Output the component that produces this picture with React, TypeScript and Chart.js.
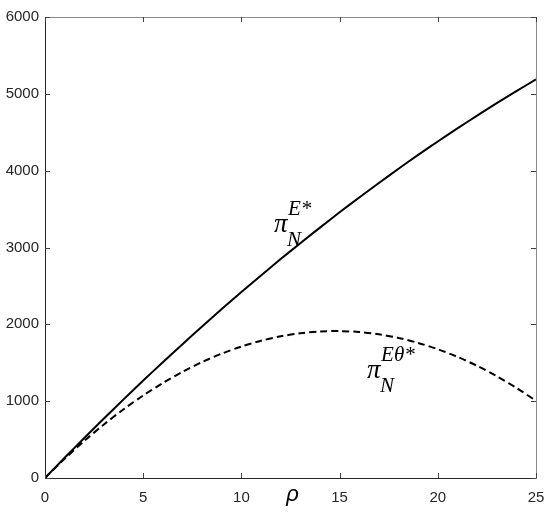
import React, { useEffect, useRef } from "react";
import { Chart, registerables } from "chart.js";

Chart.register(...registerables);

const rho: number[] = [0,1,2,3,4,5,6,7,8,9,10,11,12,13,14,15,16,17,18,19,20,21,22,23,24,25];
const piE: number[] = [0,263,521,774,1023,1268,1507,1742,1973,2199,2420,2637,2849,3056,3259,3458,3651,3840,4025,4205,4380,4550,4717,4878,5035,5188];
const piETheta: number[] = [0,250,482,697,894,1074,1236,1381,1509,1619,1711,1786,1844,1884,1907,1912,1900,1870,1823,1758,1676,1577,1460,1325,1173,1004];

const xTicks: number[] = [0, 5, 10, 15, 20, 25];
const yTicks: number[] = [0, 1000, 2000, 3000, 4000, 5000, 6000];

const label1 = { x: 11.66, y: 3202, sup: "E*", sub: "N" };
const label2 = { x: 16.4, y: 1302, sup: "Eθ*", sub: "N" };

const framePlugin = {
  id: "frame",
  afterDraw(chart: any) {
    const ctx = chart.ctx;
    const { left, right, top, bottom } = chart.chartArea;
    const xs = chart.scales.x;
    const ys = chart.scales.y;
    ctx.save();
    ctx.lineWidth = 1;
    ctx.strokeStyle = "#8a8a8a";
    ctx.beginPath();
    ctx.moveTo(left + 0.5, top + 0.5);
    ctx.lineTo(right + 0.5, top + 0.5);
    ctx.lineTo(right + 0.5, bottom + 0.5);
    ctx.stroke();
    ctx.strokeStyle = "#262626";
    ctx.beginPath();
    ctx.moveTo(left + 0.5, top + 0.5);
    ctx.lineTo(left + 0.5, bottom + 0.5);
    ctx.lineTo(right + 0.5, bottom + 0.5);
    ctx.stroke();
    const tl = 5;
    ctx.strokeStyle = "#404040";
    ctx.beginPath();
    xTicks.forEach((v) => {
      const px = Math.round(xs.getPixelForValue(v)) + 0.5;
      ctx.moveTo(px, bottom);
      ctx.lineTo(px, bottom - tl);
      ctx.moveTo(px, top);
      ctx.lineTo(px, top + tl);
    });
    yTicks.forEach((v) => {
      const py = Math.round(ys.getPixelForValue(v)) + 0.5;
      ctx.moveTo(left, py);
      ctx.lineTo(left + tl, py);
      ctx.moveTo(right, py);
      ctx.lineTo(right - tl, py);
    });
    ctx.stroke();

    ctx.fillStyle = "#000";
    ctx.textBaseline = "alphabetic";
    ctx.textAlign = "left";
    const drawLabel = (lb: any) => {
      const px = xs.getPixelForValue(lb.x);
      const py = ys.getPixelForValue(lb.y);
      ctx.font = 'italic 27px "Liberation Serif"';
      ctx.fillText("π", px, py);
      ctx.font = 'italic 21px "Liberation Serif"';
      ctx.fillText(lb.sup, px + 14, py - 17);
      ctx.fillText(lb.sub, px + 13, py + 14);
    };
    drawLabel(label1);
    drawLabel(label2);

    ctx.font = 'italic 22px "Liberation Sans"';
    ctx.textAlign = "center";
    ctx.fillText("ρ", xs.getPixelForValue(12.6), bottom + 23);
    ctx.restore();
  },
};

export default function App() {
  const ref = useRef<HTMLCanvasElement | null>(null);
  useEffect(() => {
    if (!ref.current) return;
    const chart = new Chart(ref.current, {
      type: "line",
      data: {
        datasets: [
          {
            label: "piE",
            data: rho.map((x, i) => ({ x, y: piE[i] })),
            borderColor: "#000",
            borderWidth: 2,
            pointRadius: 0,
            tension: 0.3,
            fill: false,
          },
          {
            label: "piETheta",
            data: rho.map((x, i) => ({ x, y: piETheta[i] })),
            borderColor: "#000",
            borderWidth: 2,
            borderDash: [7, 4],
            pointRadius: 0,
            tension: 0.3,
            fill: false,
          },
        ],
      },
      options: {
        responsive: false,
        animation: false,
        layout: { padding: { left: 0, top: 17, right: 14, bottom: 0 } },
        plugins: { legend: { display: false }, tooltip: { enabled: false } },
        scales: {
          x: {
            type: "linear",
            min: 0,
            max: 25,
            afterFit: (s: any) => { s.height = 36; s.paddingLeft = 0; s.paddingRight = 0; },
            afterBuildTicks: (s: any) => { s.ticks = xTicks.map((v) => ({ value: v })); },
            grid: { display: false, drawTicks: false },
            border: { display: false },
            ticks: {
              padding: 11,
              color: "#262626",
              font: { family: '"Liberation Sans", Arial', size: 15 },
              maxRotation: 0,
            },
          },
          y: {
            type: "linear",
            min: 0,
            max: 6000,
            afterFit: (s: any) => { s.width = 45; s.paddingTop = 0; s.paddingBottom = 0; },
            afterBuildTicks: (s: any) => { s.ticks = yTicks.map((v) => ({ value: v })); },
            grid: { display: false, drawTicks: false },
            border: { display: false },
            ticks: {
              padding: 6,
              color: "#262626",
              font: { family: '"Liberation Sans", Arial', size: 15 },
              callback: (v: any) => String(v),
            },
          },
        },
      },
      plugins: [framePlugin],
    });
    return () => chart.destroy();
  }, []);
  return (
    <div style={{ position: "fixed", left: 0, top: 0, width: 550, height: 514, background: "#fff" }}>
      <canvas ref={ref} width={550} height={514} style={{ display: "block" }} />
    </div>
  );
}
